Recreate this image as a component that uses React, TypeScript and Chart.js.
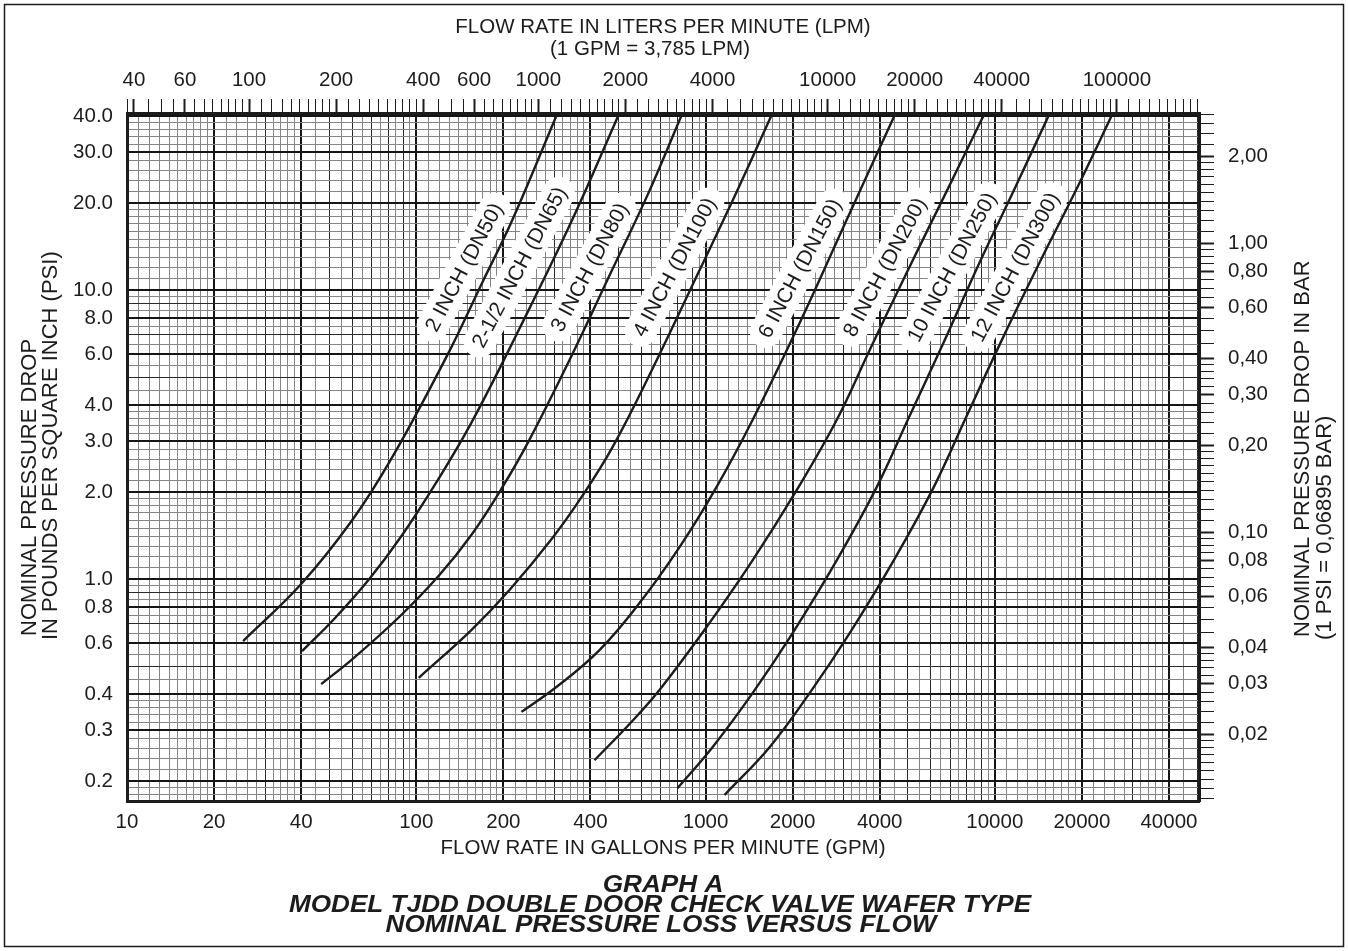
import React, { useEffect, useRef } from 'react';
import { Chart, registerables } from 'chart.js';

Chart.register(...registerables);

// ---------- axis data ----------
const gpmTickLabels = [10, 20, 40, 100, 200, 400, 1000, 2000, 4000, 10000, 20000, 40000];
const lpmTickLabels = [40, 60, 100, 200, 400, 600, 1000, 2000, 4000, 10000, 20000, 40000, 100000];
const psiTickLabels = [0.2, 0.3, 0.4, 0.6, 0.8, 1, 2, 3, 4, 6, 8, 10, 20, 30, 40];
const barTickLabels = [0.02, 0.03, 0.04, 0.06, 0.08, 0.1, 0.2, 0.3, 0.4, 0.6, 0.8, 1, 2];

const gpmMin = 10;
const gpmMax = 50800;
const psiMin = 0.1706;
const psiMax = 40.98;
const LPM_PER_GPM = 3.785;
const BAR_PER_PSI = 0.06895;

// ---------- curve data (flow in GPM, pressure drop in PSI) ----------
const dn50Flow = [25.2, 40.0, 60.1, 82.6, 127, 169, 215, 308];
const dn50Psi = [0.61, 0.961, 1.60, 2.64, 5.86, 10.6, 17.5, 41];

const dn65Flow = [40.3, 52.0, 68.8, 89.4, 117, 155, 227, 347, 504];
const dn65Psi = [0.563, 0.727, 1.0, 1.42, 2.15, 3.47, 7.33, 17.6, 41];

const dn80Flow = [46.9, 59.6, 87.3, 120, 155, 198, 246, 352, 465, 630, 833];
const dn80Psi = [0.433, 0.524, 0.739, 1.03, 1.42, 2.07, 3.03, 6.20, 11.2, 21.3, 41];

const dn100Flow = [102, 155, 210, 296, 375, 477, 640, 953, 1290, 1705];
const dn100Psi = [0.455, 0.666, 0.916, 1.39, 1.94, 2.86, 5.08, 11.7, 22.2, 41];

const dn150Flow = [231, 305, 430, 591, 813, 1091, 1454, 2115, 3099, 4544];
const dn150Psi = [0.347, 0.423, 0.568, 0.826, 1.29, 2.08, 3.55, 7.69, 17.8, 41];

const dn200Flow = [413, 546, 693, 1008, 1454, 2065, 2840, 3694, 4920, 6714, 9236];
const dn200Psi = [0.236, 0.315, 0.413, 0.682, 1.16, 2.03, 3.55, 6.20, 11.3, 21.3, 41];

const dn250Flow = [800, 1057, 1454, 2000, 2840, 3906, 5000, 6714, 8874, 11730, 15500];
const dn250Psi = [0.189, 0.262, 0.403, 0.650, 1.16, 2.08, 3.55, 6.71, 12.5, 22.5, 41];

const dn300Flow = [1163, 1665, 2290, 3150, 4473, 6151, 7875, 10570, 14310, 19220, 25610];
const dn300Psi = [0.179, 0.262, 0.403, 0.650, 1.16, 2.08, 3.55, 6.71, 12.5, 22.5, 41];

const curveNames = [
  '2 INCH (DN50)',
  '2-1/2 INCH (DN65)',
  '3 INCH (DN80)',
  '4 INCH (DN100)',
  '6 INCH (DN150)',
  '8 INCH (DN200)',
  '10 INCH (DN250)',
  '12 INCH (DN300)',
];
const curveFlows = [dn50Flow, dn65Flow, dn80Flow, dn100Flow, dn150Flow, dn200Flow, dn250Flow, dn300Flow];
const curvePsis = [dn50Psi, dn65Psi, dn80Psi, dn100Psi, dn150Psi, dn200Psi, dn250Psi, dn300Psi];

// where each curve's name sits (flow GPM, PSI)
const labelFlow = [146, 227, 397, 781, 2115, 4163, 7099, 11730];
const labelPsi = [12.0, 12.0, 12.0, 12.0, 11.9, 12.0, 12.0, 12.0];

// ---------- styling ----------
const INK = '#1c1c1c';
const FAMILY = '"Liberation Sans", Arial, Helvetica, sans-serif';

const MANT = [10, 11, 12, 13, 14, 15, 16, 17, 18, 19, 20, 22, 24, 26, 28, 30, 32, 34, 36, 38, 40, 45, 50, 55, 60, 65, 70, 75, 80, 85, 90, 95];

function logGrid(min: number, max: number): number[] {
  const out: number[] = [];
  for (let e = Math.floor(Math.log10(min)) - 1; e <= Math.ceil(Math.log10(max)); e++) {
    for (const m of MANT) {
      const v = parseFloat(((m * Math.pow(10, e)) / 10).toPrecision(6));
      if (v >= min * (1 - 1e-9) && v <= max * (1 + 1e-9)) out.push(v);
    }
  }
  return out;
}

const isIn = (v: number, list: number[]) => list.some((l) => Math.abs(v - l) <= l * 1e-6);
const isIntMant = (v: number) => {
  const m = v / Math.pow(10, Math.floor(Math.log10(v) + 1e-9));
  return Math.abs(m - Math.round(m)) < 1e-6;
};

const gridColor = (labels: number[]) => (ctx: any) => {
  const v = ctx.tick && ctx.tick.value;
  if (v == null) return '#808080';
  if (isIn(v, labels)) return '#151515';
  if (isIntMant(v)) return '#2a2a2a';
  return '#858585';
};
const gridWidth = (labels: number[]) => (ctx: any) => {
  const v = ctx.tick && ctx.tick.value;
  if (v == null) return 1;
  if (isIn(v, labels)) return 2;
  return 1;
};

const tickFont = { family: FAMILY, size: 20.5 };

function roundedBar(ctx: CanvasRenderingContext2D, L: number, H: number) {
  const r = H / 2;
  const hx = L / 2 - r;
  ctx.beginPath();
  ctx.moveTo(-hx, -r);
  ctx.lineTo(hx, -r);
  ctx.arc(hx, 0, r, -Math.PI / 2, Math.PI / 2);
  ctx.lineTo(-hx, r);
  ctx.arc(-hx, 0, r, Math.PI / 2, (3 * Math.PI) / 2);
  ctx.closePath();
}

const curveLabelPlugin = {
  id: 'curveLabels',
  beforeDatasetsDraw(chart: any) {
    const { ctx, scales } = chart;
    const xs = scales.x;
    const ys = scales.y;
    ctx.save();
    ctx.font = `21px ${FAMILY}`;
    curveNames.forEach((name, i) => {
      const px = xs.getPixelForValue(labelFlow[i]);
      const py = ys.getPixelForValue(labelPsi[i]);
      ctx.save();
      ctx.translate(px, py);
      ctx.rotate((-62 * Math.PI) / 180);
      const w = ctx.measureText(name).width;
      roundedBar(ctx, w + 22, 32);
      ctx.fillStyle = '#ffffff';
      ctx.fill();
      ctx.fillStyle = INK;
      ctx.textAlign = 'center';
      ctx.textBaseline = 'middle';
      ctx.fillText(name, 0, 1);
      ctx.restore();
    });
    ctx.restore();
  },
};

const textPlugin = {
  id: 'pageTexts',
  afterDraw(chart: any) {
    const { ctx } = chart;
    ctx.save();
    ctx.fillStyle = INK;
    ctx.textBaseline = 'middle';
    ctx.textAlign = 'center';
    ctx.font = `20.5px ${FAMILY}`;
    ctx.fillText('FLOW RATE IN LITERS PER MINUTE (LPM)', 663, 27);
    ctx.fillText('(1 GPM = 3,785 LPM)', 650, 49);
    ctx.fillText('FLOW RATE IN GALLONS PER MINUTE (GPM)', 663, 848);

    ctx.font = `italic bold 24px ${FAMILY}`;
    const wide = (t: string, x: number, y: number) => {
      ctx.save();
      ctx.translate(x, y);
      ctx.scale(1.09, 1);
      ctx.fillText(t, 0, 0);
      ctx.restore();
    };
    wide('GRAPH A', 663, 885);
    wide('MODEL TJDD DOUBLE DOOR CHECK VALVE WAFER TYPE', 660, 905);
    wide('NOMINAL PRESSURE LOSS VERSUS FLOW', 661, 925);

    ctx.font = `22px ${FAMILY}`;
    ctx.textAlign = 'left';
    const vtext = (t: string, x: number, y: number) => {
      ctx.save();
      ctx.translate(x, y);
      ctx.rotate(-Math.PI / 2);
      ctx.fillText(t, 0, 0);
      ctx.restore();
    };
    vtext('NOMINAL PRESSURE DROP', 30, 636);
    vtext('IN POUNDS PER SQUARE INCH (PSI)', 51, 640);
    vtext('NOMINAL PRESSURE DROP IN BAR', 1303, 637);
    vtext('(1 PSI = 0,06895 BAR)', 1325, 640);

    ctx.strokeStyle = INK;
    ctx.lineWidth = 1.5;
    ctx.strokeRect(4.5, 4.5, 1339, 942);
    ctx.restore();
  },
};

export default function App() {
  const ref = useRef<HTMLCanvasElement>(null);

  useEffect(() => {
    if (!ref.current) return;
    const datasets = curveNames.map((name, i) => ({
      label: name,
      data: curveFlows[i].map((f, j) => ({ x: f, y: curvePsis[i][j] })),
      borderColor: INK,
      backgroundColor: INK,
      borderWidth: 2.4,
      pointRadius: 0,
      fill: false,
      tension: 0.4,
      xAxisID: 'x',
      yAxisID: 'y',
    }));

    const chart = new Chart(ref.current, {
      type: 'line',
      data: { datasets },
      options: {
        responsive: false,
        animation: false,
        layout: { padding: 0 },
        plugins: { legend: { display: false }, tooltip: { enabled: false }, title: { display: false } },
        scales: {
          x: {
            type: 'logarithmic',
            position: 'bottom',
            min: gpmMin,
            max: gpmMax,
            afterBuildTicks: (s: any) => {
              s.ticks = logGrid(gpmMin, gpmMax).map((v) => ({ value: v }));
            },
            afterFit: (s: any) => {
              s.height = 150;
            },
            grid: { drawTicks: false, color: gridColor(gpmTickLabels), lineWidth: gridWidth(gpmTickLabels) },
            border: { display: true, color: INK, width: 3 },
            ticks: {
              autoSkip: false,
              maxRotation: 0,
              minRotation: 0,
              padding: 9,
              color: INK,
              font: tickFont,
              callback: (v: any) => (isIn(Number(v), gpmTickLabels) ? String(Math.round(Number(v))) : ''),
            },
          },
          x2: {
            type: 'logarithmic',
            position: 'top',
            min: gpmMin * LPM_PER_GPM,
            max: gpmMax * LPM_PER_GPM,
            afterBuildTicks: (s: any) => {
              s.ticks = logGrid(gpmMin * LPM_PER_GPM, gpmMax * LPM_PER_GPM).map((v) => ({ value: v }));
            },
            afterFit: (s: any) => {
              s.height = 113;
            },
            grid: {
              drawOnChartArea: false,
              drawTicks: true,
              tickLength: 14,
              tickColor: INK,
              tickWidth: (ctx: any) => (ctx.tick && isIn(ctx.tick.value, lpmTickLabels) ? 2 : 1),
            },
            border: { display: true, color: INK, width: 3 },
            ticks: {
              autoSkip: false,
              maxRotation: 0,
              minRotation: 0,
              padding: 6,
              color: INK,
              font: tickFont,
              callback: (v: any) => (isIn(Number(v), lpmTickLabels) ? String(Math.round(Number(v))) : ''),
            },
          },
          y: {
            type: 'logarithmic',
            position: 'left',
            min: psiMin,
            max: psiMax,
            afterBuildTicks: (s: any) => {
              s.ticks = logGrid(psiMin, psiMax).map((v) => ({ value: v }));
            },
            afterFit: (s: any) => {
              s.width = 127;
            },
            grid: { drawTicks: false, color: gridColor(psiTickLabels), lineWidth: gridWidth(psiTickLabels) },
            border: { display: true, color: INK, width: 3 },
            ticks: {
              autoSkip: false,
              padding: 14,
              color: INK,
              font: tickFont,
              callback: (v: any) => (isIn(Number(v), psiTickLabels) ? Number(v).toFixed(1) : ''),
            },
          },
          y2: {
            type: 'logarithmic',
            position: 'right',
            min: psiMin * BAR_PER_PSI,
            max: psiMax * BAR_PER_PSI,
            afterBuildTicks: (s: any) => {
              s.ticks = logGrid(psiMin * BAR_PER_PSI, psiMax * BAR_PER_PSI).map((v) => ({ value: v }));
            },
            afterFit: (s: any) => {
              s.width = 149;
            },
            grid: {
              drawOnChartArea: false,
              drawTicks: true,
              tickLength: 15,
              tickColor: INK,
              tickWidth: (ctx: any) => (ctx.tick && isIn(ctx.tick.value, barTickLabels) ? 2 : 1),
            },
            border: { display: true, color: INK, width: 3 },
            ticks: {
              autoSkip: false,
              padding: 14,
              color: INK,
              font: tickFont,
              callback: (v: any) =>
                isIn(Number(v), barTickLabels) ? Number(v).toFixed(2).replace('.', ',') : '',
            },
          },
        },
      } as any,
      plugins: [curveLabelPlugin, textPlugin],
    });
    return () => chart.destroy();
  }, []);

  return (
    <div style={{ position: 'fixed', left: 0, top: 0, width: 1348, height: 951, background: '#ffffff' }}>
      <canvas ref={ref} width={1348} height={951} style={{ display: 'block' }} />
    </div>
  );
}
